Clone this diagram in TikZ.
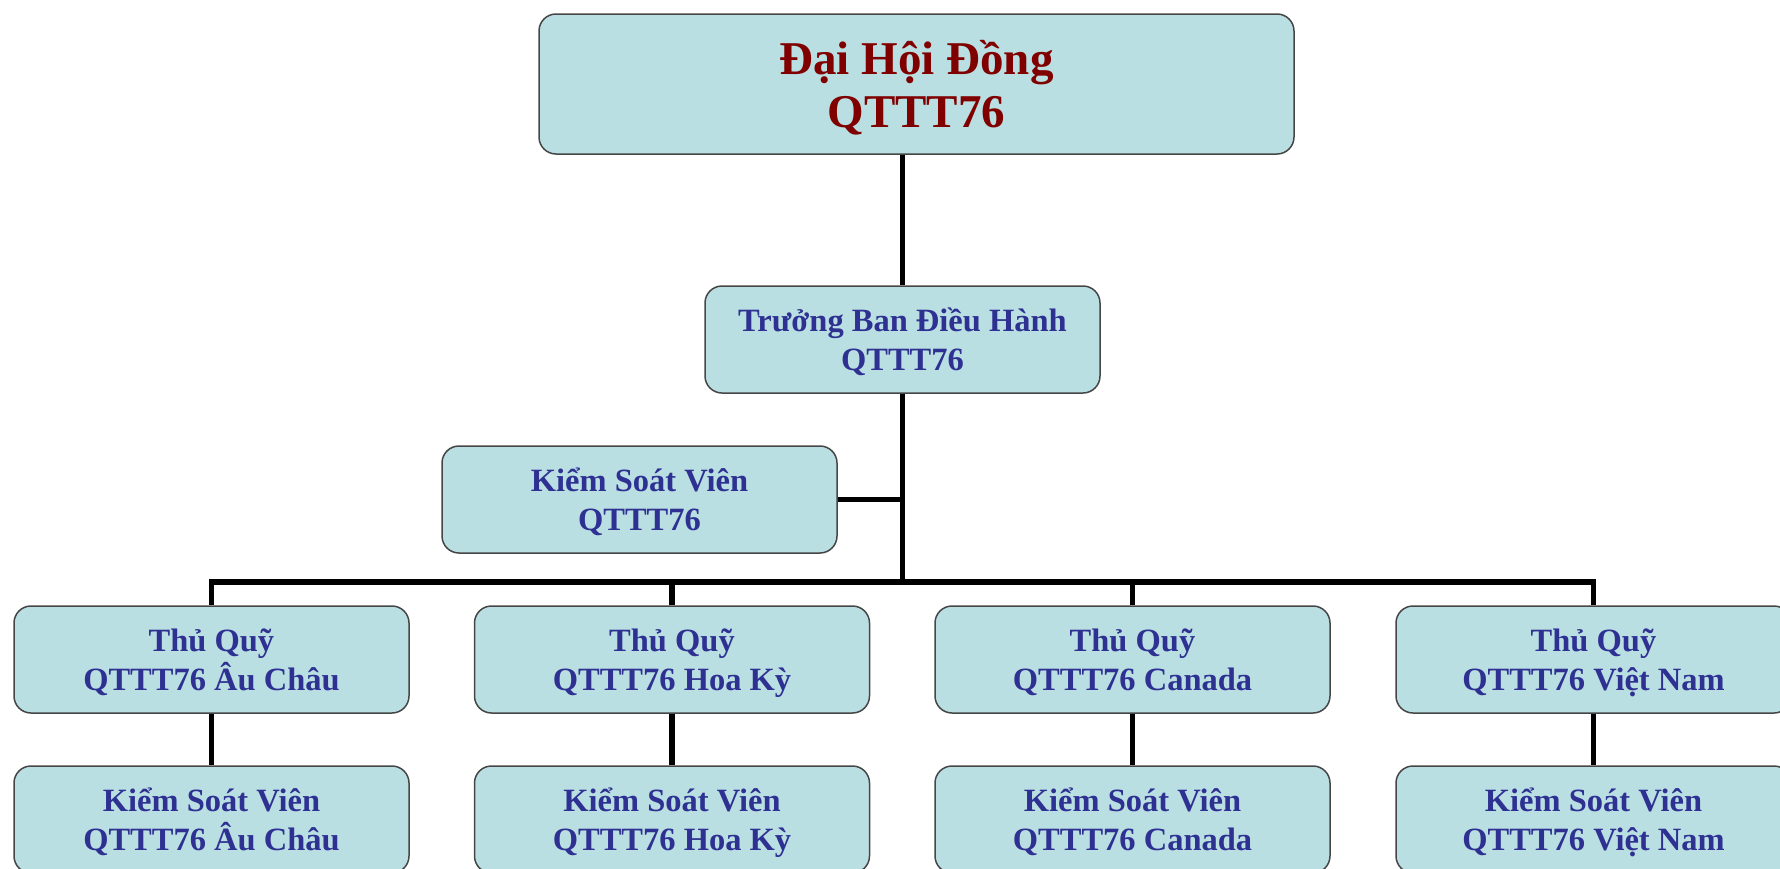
\documentclass[tikz,border=0pt]{standalone}
\usepackage{fontspec}
\setmainfont{Liberation Serif}
\definecolor{boxfill}{RGB}{185,223,227}
\definecolor{boxline}{RGB}{70,70,70}
\definecolor{txtblue}{RGB}{46,49,146}
\definecolor{txtred}{RGB}{128,0,0}
\tikzset{
  orgbox/.style={rectangle, rounded corners=17pt, draw=boxline, line width=1.5pt,
    fill=boxfill, minimum width=395pt, minimum height=107pt, inner sep=0pt,
    align=center, text=txtblue, text depth=-9pt,
    font=\bfseries\fontsize{32.5pt}{39pt}\selectfont},
  topbox/.style={orgbox, minimum width=755pt, minimum height=140pt, text=txtred,
    text depth=-6pt,
    font=\bfseries\fontsize{47pt}{53pt}\selectfont},
  link/.style={line width=5.5pt, black}
}
\begin{document}
\begin{tikzpicture}[x=1pt,y=-1pt]
\useasboundingbox (0,0) rectangle (1780,868);
\node[topbox] (top) at (916.5,84) {Đại Hội Đồng\\QTTT76};
\node[orgbox] (tbdh) at (902.5,339.5) {Trưởng Ban Điều Hành\\QTTT76};
\node[orgbox] (ksv) at (639.5,499.5) {Kiểm Soát Viên\\QTTT76};
\node[orgbox] (tq1) at (211.5,659.5) {Thủ Quỹ\\QTTT76 Âu Châu};
\node[orgbox] (tq2) at (672,659.5) {Thủ Quỹ\\QTTT76 Hoa Kỳ};
\node[orgbox] (tq3) at (1132.5,659.5) {Thủ Quỹ\\QTTT76 Canada};
\node[orgbox] (tq4) at (1593.5,659.5) {Thủ Quỹ\\QTTT76 Việt Nam};
\node[orgbox] (ks1) at (211.5,819.5) {Kiểm Soát Viên\\QTTT76 Âu Châu};
\node[orgbox] (ks2) at (672,819.5) {Kiểm Soát Viên\\QTTT76 Hoa Kỳ};
\node[orgbox] (ks3) at (1132.5,819.5) {Kiểm Soát Viên\\QTTT76 Canada};
\node[orgbox] (ks4) at (1593.5,819.5) {Kiểm Soát Viên\\QTTT76 Việt Nam};
\coordinate (bus) at (902.5,582);
\draw[link] (top.south -| tbdh) -- (tbdh.north);
\draw[link] (tbdh.south) -- (bus);
\draw[link] (ksv.east) -- (ksv.east -| tbdh);
\draw[link] (tq1.north) |- (bus);
\draw[link] (tq2.north) |- (bus);
\draw[link] (tq3.north) |- (bus);
\draw[link] (tq4.north) |- (bus);
\draw[link] (tq1.south) -- (ks1.north);
\draw[link] (tq2.south) -- (ks2.north);
\draw[link] (tq3.south) -- (ks3.north);
\draw[link] (tq4.south) -- (ks4.north);
\end{tikzpicture}
\end{document}
